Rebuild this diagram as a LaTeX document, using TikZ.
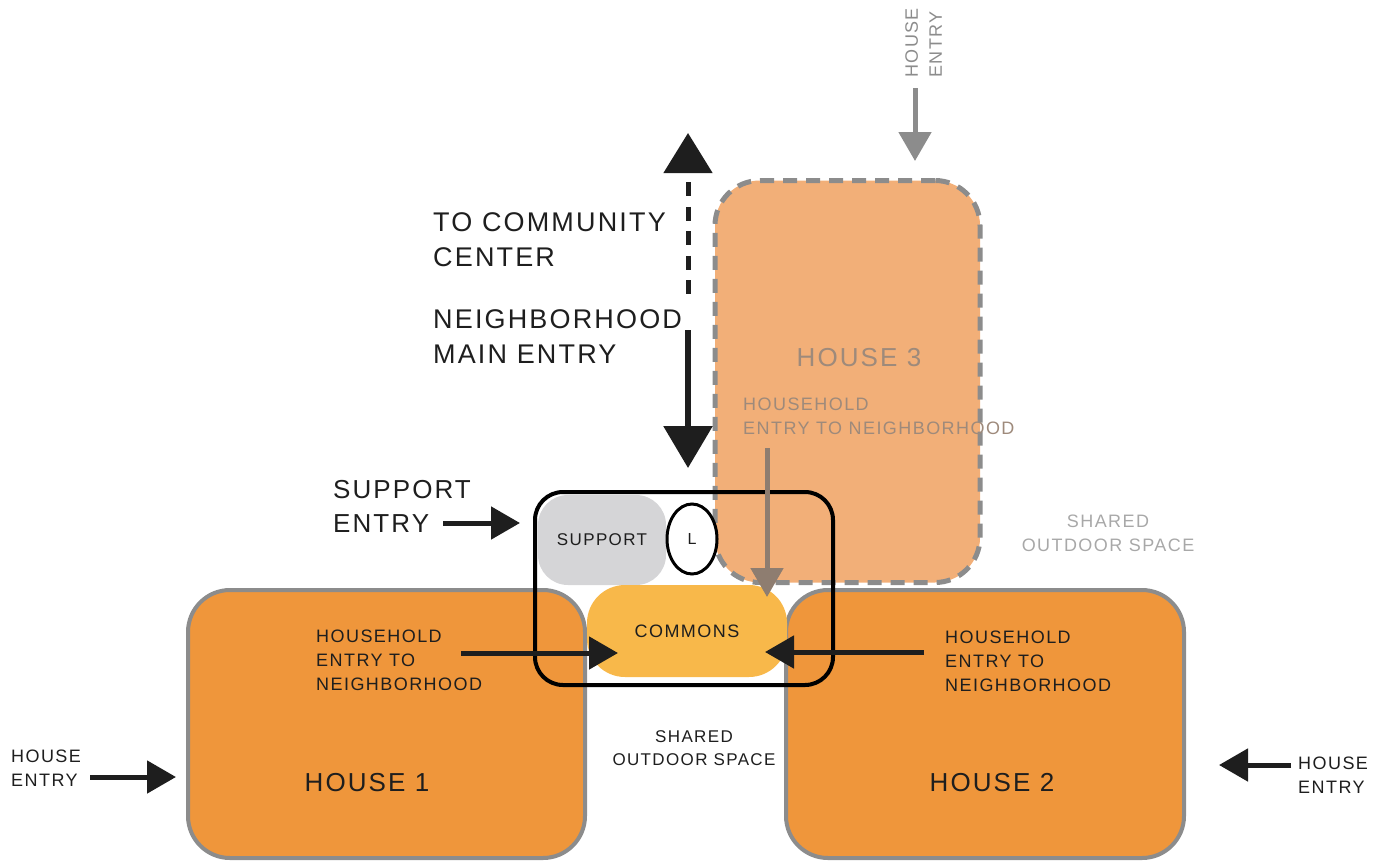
\documentclass[tikz,border=0pt]{standalone}
\usepackage{fontspec}
\setmainfont{Liberation Sans}[LetterSpace=8]
\usepackage{xcolor}
\definecolor{colorHouse}{HTML}{EF963B}
\definecolor{colorHouseFar}{HTML}{F2AF78}
\definecolor{colorCommons}{HTML}{F8B84A}
\definecolor{colorSupport}{HTML}{D5D5D7}
\definecolor{colorEdge}{HTML}{8C8C8C}
\definecolor{colorInk}{HTML}{1E1E1E}
\definecolor{colorFaint}{HTML}{A8A8A8}
\definecolor{colorFarText}{HTML}{9E8A7B}
\definecolor{colorFarArrow}{HTML}{8E7D70}
\usepackage{tikz}
\usetikzlibrary{arrows.meta, shapes.geometric}
\newcommand{\txtSmall}{\fontsize{18}{24}\selectfont}
\newcommand{\txtBig}{\fontsize{27}{35}\selectfont}
\newcommand{\txtMid}{\fontsize{26}{34}\selectfont}
\tikzset{
  house/.style={rectangle, rounded corners=42pt, draw=colorEdge, line width=4pt, fill=colorHouse, inner sep=0pt},
  farhouse/.style={house, rounded corners=45pt, fill=colorHouseFar, line width=5pt, dash pattern=on 14pt off 9pt},
  room/.style={rectangle, inner sep=0pt, text=colorInk, font=\fontsize{17}{20}\selectfont},
  lettering/.style={inner sep=0pt, text=colorInk, font=\txtSmall, align=left},
  entryArrow/.style={-{Triangle[length=29pt,width=32pt]}, line width=5pt, draw=colorInk},
  bigArrow/.style={-{Triangle[length=42pt,width=48pt]}, line width=6pt, draw=colorInk},
}

\begin{document}
\begin{tikzpicture}[x=1pt, y=-1pt]
\useasboundingbox (0,0) rectangle (1389,860);
% houses
\node[house, minimum width=397pt, minimum height=268pt] (house1) at (386.5,724) {};
\node[house, minimum width=398pt, minimum height=268pt] (house2) at (985,724) {};
\node[farhouse, minimum width=265pt, minimum height=402pt] (house3) at (847.5,381.5) {};
% the shared core
\node[room, rounded corners=30pt, fill=colorSupport, minimum width=128pt, minimum height=90pt] (support) at (602,540) {SUPPORT};
\node[room, rounded corners=38pt, fill=colorCommons, minimum width=200pt, minimum height=92pt, font=\txtSmall] (commons) at (687,631) {COMMONS};
\node[room, ellipse, draw=black, line width=3pt, fill=white, minimum width=50pt, minimum height=70pt, font=\fontsize{16}{18}\selectfont] (lift) at (692,539) {L};
\node[rectangle, rounded corners=28pt, draw=black, line width=4pt, minimum width=298pt, minimum height=193pt, inner sep=0pt] (hub) at (684,588.5) {};
% entries
\coordinate (ccStart) at (688,297);
\coordinate (ccEnd) at (688,133);
\coordinate (mainStart) at (688,330);
\coordinate (supportStart) at (443,523);
\coordinate (h1Door) at (90,777);
\coordinate (h2Door) at (1291,765);
\coordinate (h3Door) at (915,88);
\coordinate (h1Out) at (461,653);
\coordinate (h2Out) at (924,652);
\coordinate (h3Out) at (767,448);
\draw[{Triangle[length=40pt,width=48pt]}-, line width=5pt, draw=colorInk, dash pattern=on 14pt off 10.5pt, dash phase=14pt] (ccEnd) -- (ccStart);
\draw[bigArrow, shorten >=22pt] (mainStart) -- (mainStart |- hub.north);
\draw[entryArrow, shorten >=13pt] (supportStart) -- (supportStart -| hub.west);
\draw[entryArrow, shorten >=10pt] (h1Door) -- (h1Door -| house1.west);
\draw[entryArrow, shorten >=33pt] (h2Door) -- (h2Door -| house2.east);
\draw[entryArrow, draw=colorEdge, shorten >=17pt] (h3Door) -- (h3Door |- house3.north);
\draw[entryArrow, shorten >=69pt] (h1Out) -- (h1Out -| commons.center);
\draw[entryArrow, shorten >=78pt] (h2Out) -- (h2Out -| commons.center);
\draw[entryArrow, draw=colorFarArrow, shorten >=34pt] (h3Out) -- (h3Out |- commons.center);
% texts
\node[lettering, font=\txtBig, anchor=north west] (txtCommunity) at (433,212) {TO COMMUNITY\\CENTER};
\node[lettering, font=\txtBig, anchor=north west] (txtMainEntry) at (433,309) {NEIGHBORHOOD\\MAIN ENTRY};
\node[lettering, font=\txtMid, anchor=north west] (txtSupportEntry) at (333,480) {SUPPORT\\ENTRY};
\node[lettering, anchor=north west] (txtH1Door) at (11,750) {HOUSE\\ENTRY};
\node[lettering, anchor=north west] (txtH2Door) at (1298,757) {HOUSE\\ENTRY};
\node[lettering, text=colorEdge, rotate=90, anchor=north west] (txtH3Door) at (905,78) {HOUSE\\ENTRY};
\node[lettering, anchor=north west] (txtH1Link) at (316,630) {HOUSEHOLD\\ENTRY TO\\NEIGHBORHOOD};
\node[lettering, anchor=north west] (txtH2Link) at (945,631) {HOUSEHOLD\\ENTRY TO\\NEIGHBORHOOD};
\node[lettering, text=colorFarText, anchor=north west] (txtH3Link) at (743,398) {HOUSEHOLD\\ENTRY TO NEIGHBORHOOD};
\node[lettering, text=colorFaint, align=center, anchor=north] (txtSharedFar) at (1108,515) {SHARED\\OUTDOOR SPACE};
\node[lettering, font=\fontsize{17}{23}\selectfont, align=center, anchor=north] (txtSharedNear) at (694,730) {SHARED\\OUTDOOR SPACE};
\node[lettering, font=\fontsize{26}{30}\selectfont] (txtHouse1) at (367,783) {HOUSE 1};
\node[lettering, font=\fontsize{26}{30}\selectfont] (txtHouse2) at (992,783) {HOUSE 2};
\node[lettering, font=\fontsize{26}{30}\selectfont, text=colorFarText] (txtHouse3) at (859,358) {HOUSE 3};
\end{tikzpicture}
\end{document}
